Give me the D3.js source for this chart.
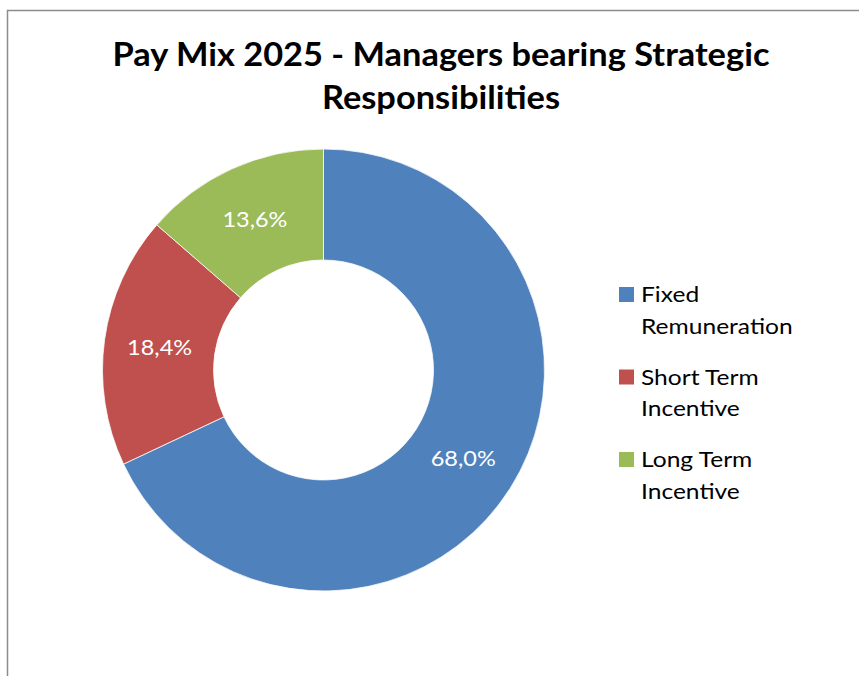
<!DOCTYPE html>
<html>
<head>
<meta charset="utf-8">
<script src="https://cdn.jsdelivr.net/npm/d3@7"></script>
<style>
  html, body { margin: 0; padding: 0; background: #ffffff; }
  svg { display: block; }
</style>
</head>
<body>
<svg id="chart" width="859" height="676"></svg>
<script>
const categories = ["Fixed Remuneration", "Short Term Incentive", "Long Term Incentive"];
const legendLines = [["Fixed", "Remuneration"], ["Short Term", "Incentive"], ["Long Term", "Incentive"]];
const values = [68.0, 18.4, 13.6];
const valueLabels = ["68,0%", "18,4%", "13,6%"];
const colors = ["#4F81BD", "#C0504D", "#9BBB59"];
const titleLines = ["Pay Mix 2025 - Managers bearing Strategic", "Responsibilities"];

const svg = d3.select("#chart");
const W = 859, H = 676;
const font = "Lato, 'Open Sans', sans-serif";

// frame (left and top edges visible)
svg.append("path")
  .attr("d", `M7.5,${H} L7.5,10.5 L${W},10.5`)
  .attr("fill", "none").attr("stroke", "#8c8c8c").attr("stroke-width", 1.5);

// title
const titleX = 441;
const title = svg.append("text")
  .attr("transform", `translate(${titleX},0) scale(1.075,1)`)
  .attr("text-anchor", "middle")
  .attr("font-family", font)
  .attr("font-weight", 700)
  .attr("font-size", 32)
  .attr("fill", "#000");
titleLines.forEach((t, i) => {
  title.append("tspan").attr("x", 0).attr("y", 66 + i * 43).text(t);
});

// donut
const cx = 323.5, cy = 370, rOuter = 221, rInner = 110;
const g = svg.append("g").attr("transform", `translate(${cx},${cy})`);
const pie = d3.pie().sort(null).value(d => d)(values);
const arc = d3.arc().innerRadius(rInner).outerRadius(rOuter);
const labelArc = d3.arc().innerRadius((rInner + rOuter) / 2).outerRadius((rInner + rOuter) / 2);

g.selectAll("path.slice").data(pie).join("path")
  .attr("class", "slice")
  .attr("d", arc)
  .attr("fill", (d, i) => colors[i])
  .attr("stroke", "#ffffff")
  .attr("stroke-width", 0.75);

g.selectAll("text.lbl").data(pie).join("text")
  .attr("class", "lbl")
  .attr("transform", d => `translate(${labelArc.centroid(d)}) scale(1.12,1)`)
  .attr("dy", "0.36em")
  .attr("text-anchor", "middle")
  .attr("font-family", font)
  .attr("font-size", 21)
  .attr("fill", "#ffffff")
  .text((d, i) => valueLabels[i]);

// legend
const legend = svg.append("g");
const items = legend.selectAll("g.item").data(categories).join("g")
  .attr("class", "item")
  .attr("transform", (d, i) => `translate(619, ${287 + i * 82.5})`);
items.append("rect")
  .attr("width", 15).attr("height", 15)
  .attr("fill", (d, i) => colors[i]);
items.each(function(d, i) {
  const t = d3.select(this).append("text")
    .attr("transform", "translate(22,0) scale(1.17,1)")
    .attr("font-family", font)
    .attr("font-size", 21)
    .attr("fill", "#000");
  legendLines[i].forEach((line, j) => {
    t.append("tspan").attr("x", 0).attr("y", 15 + j * 32).text(line);
  });
});
</script>
</body>
</html>
